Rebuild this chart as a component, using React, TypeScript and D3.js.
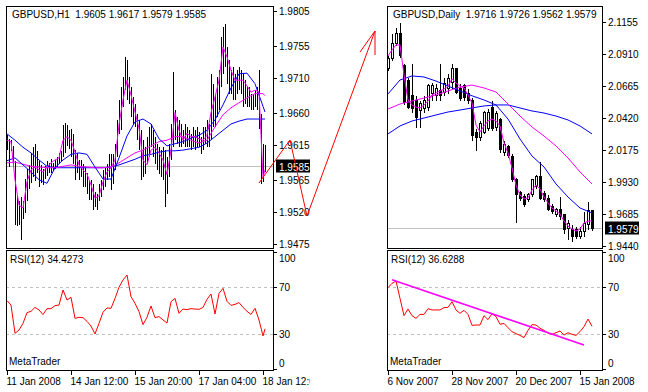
import * as d3 from "d3";

const FONT = "'Liberation Sans', Arial, sans-serif";

// ---------- GBPUSD H1 ----------
const h1Title = "GBPUSD,H1  1.9605 1.9617 1.9579 1.9585";
const h1RsiTitle = "RSI(12) 34.4273";
const h1Last = 1.9585;
const h1PriceTicks = [1.9805, 1.9755, 1.971, 1.966, 1.9615, 1.9565, 1.952, 1.9475];
const h1TimeTicks = [0, 32, 64, 96, 128];
const h1TimeLabels = ["11 Jan 2008", "14 Jan 12:00", "15 Jan 20:00", "17 Jan 04:00", "18 Jan 12:00"];

const h1High = [
  1.9631, 1.9625, 1.9624, 1.9615, 1.9594, 1.9545, 1.9537, 1.9543, 1.9537, 1.9569,
  1.9583, 1.9588, 1.9605, 1.9614, 1.9618, 1.9608, 1.9594, 1.9588, 1.9583, 1.9587,
  1.9594, 1.9591, 1.9597, 1.9591, 1.9595, 1.96, 1.9605, 1.9608, 1.9645, 1.9648,
  1.9645, 1.9638, 1.9639, 1.9632, 1.9609, 1.9605, 1.9595, 1.9595, 1.959, 1.9585,
  1.9577, 1.9567, 1.9567, 1.9561, 1.955, 1.9547, 1.9561, 1.9567, 1.9581, 1.9585,
  1.959, 1.9604, 1.9604, 1.9604, 1.9618, 1.9652, 1.968, 1.9699, 1.9713, 1.9741,
  1.9737, 1.9713, 1.9699, 1.9685, 1.9675, 1.9661, 1.9652, 1.9638, 1.9624, 1.9614,
  1.9628, 1.9642, 1.9646, 1.9638, 1.9628, 1.9618, 1.9614, 1.9609, 1.9614, 1.9609,
  1.96, 1.9618, 1.9646, 1.972, 1.9666, 1.9656, 1.9652, 1.9646, 1.9638, 1.9646,
  1.9642, 1.9638, 1.9632, 1.9642, 1.9638, 1.9642, 1.9635, 1.9628, 1.9642, 1.9642,
  1.9652, 1.9646, 1.9717, 1.9703, 1.9689, 1.9713, 1.9723, 1.977, 1.9784, 1.9788,
  1.9755, 1.9737, 1.9723, 1.9727, 1.9717, 1.9723, 1.9727, 1.9723, 1.9717, 1.9709,
  1.9699, 1.9699, 1.9689, 1.9689, 1.9695, 1.9699, 1.9723, 1.9661, 1.9618, 1.9617,
];
const h1Low = [
  1.9609, 1.9585, 1.9608, 1.9587, 1.9503, 1.9502, 1.9503, 1.9482, 1.9512, 1.952,
  1.9537, 1.9554, 1.9563, 1.9571, 1.9566, 1.9577, 1.9557, 1.9563, 1.956, 1.9569,
  1.9573, 1.9577, 1.9577, 1.958, 1.9583, 1.9585, 1.959, 1.9594, 1.96, 1.9605,
  1.9615, 1.9611, 1.96, 1.959, 1.9567, 1.9577, 1.9567, 1.9571, 1.9557, 1.9557,
  1.9547, 1.9539, 1.9539, 1.9525, 1.9529, 1.9525, 1.9537, 1.9543, 1.9553, 1.9557,
  1.9567, 1.9571, 1.9553, 1.9561, 1.9581, 1.96, 1.9632, 1.9638, 1.967, 1.9695,
  1.968, 1.9675, 1.9656, 1.9646, 1.9642, 1.9624, 1.9609, 1.9567, 1.9571, 1.9576,
  1.959, 1.96, 1.9614, 1.96, 1.959, 1.9581, 1.9576, 1.9571, 1.9567, 1.9529,
  1.9547, 1.9571, 1.9595, 1.9614, 1.9624, 1.9618, 1.9614, 1.9614, 1.9618, 1.9614,
  1.9614, 1.9614, 1.9609, 1.9614, 1.9609, 1.9614, 1.9614, 1.9604, 1.9609, 1.9618,
  1.9614, 1.9614, 1.9624, 1.9642, 1.9642, 1.9656, 1.9666, 1.9699, 1.9717, 1.9727,
  1.9703, 1.9689, 1.9689, 1.968, 1.968, 1.9689, 1.9695, 1.9689, 1.967, 1.9675,
  1.967, 1.967, 1.9666, 1.9666, 1.967, 1.9666, 1.964, 1.9561, 1.9564, 1.9579,
];
// moving averages, one value every 2 or 4 bars
const h1MaFast = [
  1.9622, 1.962, 1.9566, 1.953, 1.9526, 1.9563, 1.958, 1.9584, 1.958, 1.9577,
  1.9584, 1.959, 1.9594, 1.9597, 1.9622, 1.9627, 1.9622, 1.9605, 1.9587, 1.958,
  1.9574, 1.9559, 1.954, 1.9543, 1.9563, 1.9577, 1.9583, 1.9594, 1.9644, 1.9679,
  1.9707, 1.9686, 1.9662, 1.9639, 1.9594, 1.9587, 1.9608, 1.9612, 1.9604, 1.9594,
  1.9573, 1.9608, 1.9661, 1.9636, 1.9622, 1.9632, 1.9627, 1.9627, 1.9624, 1.9622,
  1.9629, 1.9661, 1.9683, 1.9707, 1.9754, 1.974, 1.9721, 1.9707, 1.9707, 1.9707,
  1.9699, 1.969, 1.9693, 1.969, 1.9569, 1.958,
];
const h1BlueFast = [
  1.9593, 1.9597, 1.9587, 1.9577, 1.9566, 1.9561, 1.9583, 1.9594, 1.9602, 1.9604,
  1.9602, 1.9584, 1.9567, 1.9567, 1.9597, 1.9628, 1.9648, 1.9652, 1.9645, 1.9624,
  1.9614, 1.9617, 1.962, 1.9625, 1.9629, 1.9636, 1.9651, 1.9672, 1.9696, 1.9716,
  1.9717, 1.9702, 1.967, 1.9662,
];
const h1BlueSlow = [
  1.9631, 1.9622, 1.9612, 1.9604, 1.9594, 1.9585, 1.9583, 1.9583, 1.9583, 1.9583,
  1.9583, 1.9583, 1.9583, 1.9584, 1.9587, 1.9591, 1.9595, 1.96, 1.9602, 1.9605,
  1.9607, 1.9607, 1.9608, 1.961, 1.9612, 1.9618, 1.9627, 1.9636, 1.9645, 1.9649,
  1.9652, 1.9652, 1.9652, 1.9652,
];
const h1MagentaSlow = [
  1.959, 1.9591, 1.9588, 1.9585, 1.9584, 1.9583, 1.9583, 1.9585, 1.9587, 1.9585,
  1.9584, 1.9583, 1.9583, 1.9584, 1.959, 1.9597, 1.9604, 1.9608, 1.9614, 1.962,
  1.9622, 1.9627, 1.9627, 1.9622, 1.9618, 1.9622, 1.9641, 1.9658, 1.9668, 1.9675,
  1.9682, 1.9688, 1.9688, 1.9685,
];
const h1Rsi = [
  58.6, 54.8, 30.6, 33.4, 39.1, 48.3, 49.4, 52.8, 50.6, 46.6,
  51.7, 51.7, 54.3, 54.8, 67.7, 59.1, 61.4, 43.4, 44.3, 44.0,
  40.8, 36.8, 30.0, 39.1, 48.6, 52.3, 52.0, 60.5, 70.0, 76.3,
  80.5, 62.0, 56.3, 49.1, 38.0, 44.3, 54.0, 44.0, 44.9, 42.0,
  39.4, 57.7, 60.5, 47.7, 51.4, 50.9, 51.7, 51.4, 51.1, 52.8,
  59.7, 64.3, 47.1, 64.8, 69.1, 58.0, 54.5, 55.4, 56.9, 52.8,
  49.4, 46.8, 52.0, 42.0, 28.3, 34.4,
];

// ---------- GBPUSD Daily ----------
const dTitle = "GBPUSD,Daily  1.9716 1.9726 1.9562 1.9579";
const dRsiTitle = "RSI(12) 36.6288";
const dLast = 1.9579;
const dPriceTicks = [2.1155, 2.091, 2.0665, 2.042, 2.0175, 1.993, 1.9685, 1.944];
const dTimeTicks = [0, 16, 32, 48];
const dTimeLabels = ["6 Nov 2007", "28 Nov 2007", "20 Dec 2007", "15 Jan 2008"];

const dOpen = [
  2.0803, 2.0879, 2.0994, 2.1071, 2.0826, 2.0711, 2.0596, 2.0558, 2.0481, 2.0497,
  2.0504, 2.0611, 2.0596, 2.0634, 2.0619, 2.0649, 2.0696, 2.0803, 2.0649, 2.0672,
  2.0611, 2.0558, 2.0313, 2.0275, 2.0313, 2.0344, 2.0504, 2.0351, 2.0412, 2.016,
  2.0206, 2.0129, 1.9953, 1.9854, 1.9823, 1.98, 1.9838, 1.9899, 1.9976, 1.9846,
  1.9808, 1.9746, 1.9685, 1.9723, 1.9685, 1.9578, 1.957, 1.957, 1.9516, 1.9554,
  1.9609, 1.9716,
];
const dHigh = [
  2.0902, 2.1071, 2.1117, 2.1155, 2.0841, 2.0734, 2.0841, 2.0596, 2.0558, 2.0596,
  2.0688, 2.0696, 2.0688, 2.0841, 2.0734, 2.0765, 2.0841, 2.081, 2.0688, 2.0688,
  2.0649, 2.0581, 2.0344, 2.0405, 2.0481, 2.0497, 2.0558, 2.0481, 2.0428, 2.0252,
  2.0221, 2.0152, 1.9968, 1.9869, 1.9846, 1.9854, 1.9961, 1.9991, 2.0091, 1.9869,
  1.9838, 1.9769, 1.9739, 1.9823, 1.9693, 1.9647, 1.9609, 1.9593, 1.9593, 1.9708,
  1.9785, 1.9726,
];
const dLow = [
  2.0788, 2.0864, 2.0979, 2.0887, 2.0527, 2.0497, 2.0466, 2.0351, 2.0351, 2.0466,
  2.0481, 2.0558, 2.0558, 2.0558, 2.0596, 2.0611, 2.0649, 2.0611, 2.0558, 2.0558,
  2.0535, 2.0252, 2.0175, 2.0252, 2.0305, 2.0329, 2.0329, 2.0329, 2.016, 2.0137,
  2.0119, 1.9938, 1.9624, 1.9792, 1.9746, 1.9785, 1.9823, 1.9884, 1.98, 1.9785,
  1.9716, 1.9693, 1.967, 1.9647, 1.9539, 1.9494, 1.9478, 1.9501, 1.9501, 1.9516,
  1.957, 1.9562,
];
const dClose = [
  2.0879, 2.0994, 2.1071, 2.0902, 2.0543, 2.0504, 2.0497, 2.0428, 2.0535, 2.0558,
  2.0672, 2.0672, 2.0649, 2.0596, 2.0688, 2.0727, 2.0803, 2.0619, 2.0573, 2.0581,
  2.0558, 2.029, 2.0275, 2.0382, 2.0466, 2.0466, 2.0344, 2.0458, 2.0183, 2.0221,
  2.0137, 1.9953, 1.9838, 1.9808, 1.9762, 1.9838, 1.9953, 1.9976, 1.9808, 1.98,
  1.9723, 1.9708, 1.9723, 1.967, 1.957, 1.9616, 1.9516, 1.9516, 1.9554, 1.9616,
  1.9716, 1.9579,
];
const dMaFast = [
  2.0895, 2.0941, 2.0979, 2.0979, 2.0749, 2.0558, 2.052, 2.0504, 2.0497, 2.052,
  2.055, 2.0596, 2.0611, 2.0627, 2.0642, 2.0665, 2.0719, 2.0688, 2.0665, 2.065,
  2.0596, 2.0535, 2.0366, 2.0313, 2.0359, 2.0397, 2.0412, 2.0397, 2.0359, 2.0229,
  2.0152, 2.0037, 1.9907, 1.983, 1.98, 1.9808, 1.9869, 1.9907, 1.9876, 1.9815,
  1.9769, 1.9731, 1.9708, 1.9685, 1.9631, 1.9593, 1.957, 1.9554, 1.957, 1.9616,
  1.9631, 1.9631,
];
// every 3 bars
const dMagentaSlow = [
  2.0489, 2.0527, 2.055, 2.0573, 2.0596, 2.0627, 2.0657, 2.0672, 2.065, 2.0619,
  2.0527, 2.0435, 2.0351, 2.0282, 2.0206, 2.0114, 2.0007, 1.9915,
];
const dBlueFast = [
  2.0604, 2.0711, 2.0742, 2.0734, 2.0703, 2.0665, 2.0627, 2.059, 2.0558, 2.052,
  2.0412, 2.0259, 2.0129, 2.0045, 1.9915, 1.9815, 1.9731, 1.9693,
];
const dBlueSlow = [
  2.0298, 2.0359, 2.0397, 2.042, 2.0443, 2.0466, 2.0481, 2.0497, 2.0512, 2.052,
  2.052, 2.0497, 2.0474, 2.0458, 2.0435, 2.0405, 2.0359, 2.0298,
];
const dRsi = [
  69.7, 73.4, 75.4, 60.5, 45.7, 51.4, 45.7, 43.4, 46.8, 46.8,
  51.7, 50.6, 50.6, 50.6, 52.6, 52.8, 57.7, 50.6, 47.7, 50.3,
  46.8, 37.4, 37.7, 37.7, 45.7, 42.3, 47.4, 44.9, 38.3, 39.1,
  35.4, 32.0, 30.3, 28.8, 26.9, 33.1, 38.0, 37.7, 34.9, 33.1,
  30.8, 29.7, 31.1, 32.6, 29.1, 31.1, 29.7, 28.8, 32.0, 36.3,
  42.8, 36.6,
];
// trendline drawn on the daily RSI: [bar, value]
const dRsiTrend: [number, number][] = [[1, 76.5], [49, 20.5]];

const rsiLevels = [70, 30];
const rsiLabels = [100, 70, 30, 0];

// hand drawn arrow between the two windows (screen pixels)
const arrowPts: [number, number][] = [[259, 183], [290, 140], [307, 216], [375, 31]];
const arrowHead: [number, number][] = [[360, 52], [375, 31], [375, 55]];

type MA = { values: number[]; step: number; color: string };

type ChartProps = {
  id: string;
  x0: number;
  x1: number;
  firstX: number;
  gap: number;
  priceDomain: [number, number];
  priceRange: [number, number];
  priceTicks: number[];
  last: number;
  title: string;
  rsiTitle: string;
  rsi: number[];
  rsiStep: number;
  timeTicks: number[];
  timeLabels: string[];
  high: number[];
  low: number[];
  open?: number[];
  close?: number[];
  mas: MA[];
  trend?: [number, number][];
};

const TOP = 6;
const BOTTOM = 248;
const R_TOP = 250;
const R_BOTTOM = 370;

function MetaChart(p: ChartProps) {
  const n = p.high.length;
  const x = d3.scaleLinear().domain([0, n - 1]).range([p.firstX, p.firstX + p.gap * (n - 1)]);
  const y = d3.scaleLinear().domain(p.priceDomain).range(p.priceRange);
  const r = d3.scaleLinear().domain([0, 100]).range([369, 252.3]);
  const px = (i: number) => Math.round(x(i)) + 0.5;
  const py = (v: number) => Math.round(y(v)) + 0.5;

  const path = (vals: number[], step: number, sc: (v: number) => number) =>
    d3
      .line<number>()
      .x((_, j) => x(Math.min(j * step, n - 1)))
      .y((v) => sc(v))(vals) || "";

  const lastY = Math.round(y(p.last)) + 0.5;

  return (
    <g fontFamily={FONT} fontSize={10}>
      <defs>
        <clipPath id={p.id + "main"}>
          <rect x={p.x0} y={TOP} width={p.x1 - p.x0} height={BOTTOM - TOP} />
        </clipPath>
        <clipPath id={p.id + "rsi"}>
          <rect x={p.x0} y={R_TOP} width={p.x1 - p.x0} height={R_BOTTOM - R_TOP} />
        </clipPath>
      </defs>

      {/* price window */}
      <g clipPath={`url(#${p.id}main)`}>
        <line x1={p.x0} x2={p.x1} y1={lastY} y2={lastY} stroke="#c0c0c0" shapeRendering="crispEdges" />
        {p.high.map((h, i) => {
          const cx = px(i);
          if (!p.open || !p.close) {
            return (
              <line key={i} x1={cx} x2={cx} y1={py(h)} y2={py(p.low[i])} stroke="#000" shapeRendering="crispEdges" />
            );
          }
          const o = p.open[i];
          const c = p.close[i];
          const bt = Math.round(y(Math.max(o, c)));
          const bb = Math.round(y(Math.min(o, c)));
          return (
            <g key={i} shapeRendering="crispEdges">
              <line x1={cx} x2={cx} y1={py(h)} y2={py(p.low[i])} stroke="#000" />
              <rect
                x={cx - 1}
                y={bt + 0.5}
                width={2}
                height={Math.max(bb - bt, 1)}
                fill={c >= o ? "#fff" : "#000"}
                stroke="#000"
              />
            </g>
          );
        })}
        {p.mas.map((m, k) => (
          <path key={k} d={path(m.values, m.step, y)} fill="none" stroke={m.color} strokeWidth={1} />
        ))}
        <text x={p.x0 + 6} y={18} xmlSpace="preserve" style={{ whiteSpace: "pre" }}>
          {p.title}
        </text>
      </g>
      <rect x={p.x0 + 0.5} y={TOP + 0.5} width={p.x1 - p.x0} height={BOTTOM - TOP} fill="none" stroke="#000" shapeRendering="crispEdges" />

      {/* price axis */}
      {p.priceTicks.map((t) => (
        <g key={t}>
          <line x1={p.x1 + 0.5} x2={p.x1 + 4} y1={py(t)} y2={py(t)} stroke="#000" shapeRendering="crispEdges" />
          <text x={p.x1 + 6} y={Math.round(y(t)) + 4}>
            {t.toFixed(4)}
          </text>
        </g>
      ))}
      <rect x={p.x1 + 3} y={lastY - 7} width={34} height={13} fill="#000" />
      <text x={p.x1 + 6} y={lastY + 4} fill="#fff">
        {p.last.toFixed(4)}
      </text>

      {/* RSI window */}
      <g clipPath={`url(#${p.id}rsi)`}>
        {rsiLevels.map((l) => (
          <line
            key={l}
            x1={p.x0}
            x2={p.x1}
            y1={Math.round(r(l)) + 0.5}
            y2={Math.round(r(l)) + 0.5}
            stroke="#c0c0c0"
            strokeDasharray="3,3"
            shapeRendering="crispEdges"
          />
        ))}
        <path d={path(p.rsi, p.rsiStep, r)} fill="none" stroke="#ff0000" />
        {p.trend && (
          <line
            x1={x(p.trend[0][0])}
            y1={r(p.trend[0][1])}
            x2={x(p.trend[1][0])}
            y2={r(p.trend[1][1])}
            stroke="#ff00ff"
            strokeWidth={1.6}
          />
        )}
        <text x={p.x0 + 4} y={263}>
          {p.rsiTitle}
        </text>
        <text x={p.x0 + 3} y={365}>
          MetaTrader
        </text>
      </g>
      <rect x={p.x0 + 0.5} y={R_TOP + 0.5} width={p.x1 - p.x0} height={R_BOTTOM - R_TOP} fill="none" stroke="#000" shapeRendering="crispEdges" />
      {rsiLabels.map((l) => {
        const ly = Math.min(Math.max(r(l), 258), 363);
        return (
          <g key={l}>
            <line x1={p.x1 + 0.5} x2={p.x1 + 4} y1={Math.round(r(l)) + 0.5} y2={Math.round(r(l)) + 0.5} stroke="#000" shapeRendering="crispEdges" />
            <text x={p.x1 + 6} y={Math.round(ly) + 4}>
              {l}
            </text>
          </g>
        );
      })}

      {/* time axis */}
      {p.timeTicks.map((t, k) => (
        <g key={t}>
          <line x1={px(t)} x2={px(t)} y1={R_BOTTOM} y2={R_BOTTOM + 5} stroke="#000" shapeRendering="crispEdges" />
          <text x={px(t) - 1} y={385}>
            {p.timeLabels[k]}
          </text>
        </g>
      ))}
    </g>
  );
}

export default function App() {
  return (
    <svg width={648} height={392} style={{ position: "absolute", left: 0, top: 0, background: "#fff" }}>
      <rect width={648} height={392} fill="#fff" />
      <defs>
        <clipPath id="leftwin">
          <rect x={0} y={0} width={310} height={392} />
        </clipPath>
      </defs>
      <g clipPath="url(#leftwin)">
        <MetaChart
          id="h1"
          x0={6}
          x1={273}
          firstX={7}
          gap={2}
          priceDomain={[1.9475, 1.9805]}
          priceRange={[244, 11]}
          priceTicks={h1PriceTicks}
          last={h1Last}
          title={h1Title}
          rsiTitle={h1RsiTitle}
          rsi={h1Rsi}
          rsiStep={2}
          timeTicks={h1TimeTicks}
          timeLabels={h1TimeLabels}
          high={h1High}
          low={h1Low}
          mas={[
            { values: h1BlueSlow, step: 4, color: "#0000ff" },
            { values: h1MagentaSlow, step: 4, color: "#ff00ff" },
            { values: h1BlueFast, step: 4, color: "#0000ff" },
            { values: h1MaFast, step: 2, color: "#ff00ff" },
          ]}
        />
      </g>
      <MetaChart
        id="d1"
        x0={387}
        x1={602}
        firstX={388}
        gap={4}
        priceDomain={[1.944, 2.1155]}
        priceRange={[246, 22]}
        priceTicks={dPriceTicks}
        last={dLast}
        title={dTitle}
        rsiTitle={dRsiTitle}
        rsi={dRsi}
        rsiStep={1}
        timeTicks={dTimeTicks}
        timeLabels={dTimeLabels}
        high={dHigh}
        low={dLow}
        open={dOpen}
        close={dClose}
        trend={dRsiTrend}
        mas={[
          { values: dBlueSlow, step: 3, color: "#0000ff" },
          { values: dMagentaSlow, step: 3, color: "#ff00ff" },
          { values: dBlueFast, step: 3, color: "#0000ff" },
          { values: dMaFast, step: 1, color: "#ff00ff" },
        ]}
      />
      <polyline
        points={arrowPts.map((d) => d.join(",")).join(" ")}
        fill="none"
        stroke="#ff0000"
      />
      <polyline
        points={arrowHead.map((d) => d.join(",")).join(" ")}
        fill="none"
        stroke="#ff0000"
      />
    </svg>
  );
}
